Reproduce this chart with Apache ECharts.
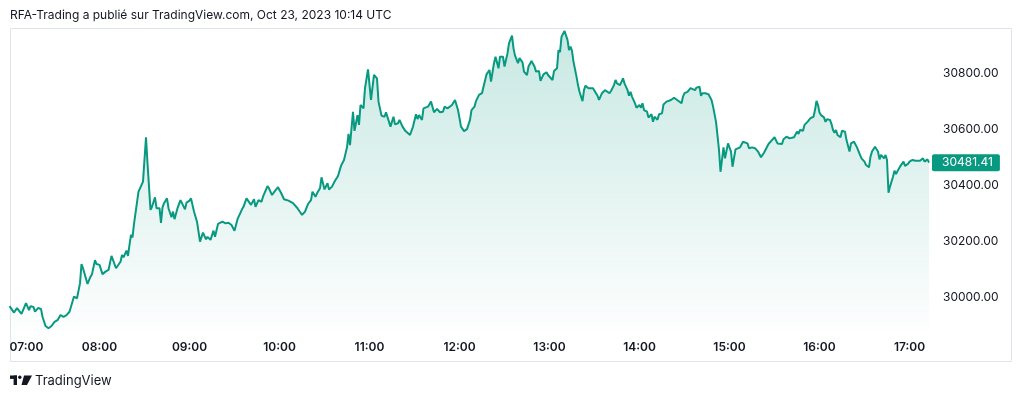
<!DOCTYPE html>
<html>
<head>
<meta charset="utf-8">
<script src="https://cdn.jsdelivr.net/npm/echarts@6/dist/echarts.min.js"></script>
<style>
  html, body { margin: 0; padding: 0; background: #fff; }
  #chart { width: 1024px; height: 399px; }
</style>
</head>
<body>
<div id="chart"></div>
<script>
// BTC/USD intraday, minutes after 07:00
const titleText = 'RFA-Trading a publié sur TradingView.com, Oct 23, 2023 10:14 UTC';
const startHour = 7;
const minutes = [
  0, 1, 3, 5, 8, 11, 13, 14, 16, 17, 19, 21, 22, 24, 26, 28, 30, 32, 34, 36, 38, 40, 41, 43, 45, 47, 48, 49, 50, 52,
  54, 55, 57, 58, 60, 62, 64, 66, 68, 69, 71, 74, 75, 76, 78, 79, 80, 81, 82, 83, 84, 86, 87, 89, 91, 92, 94, 95, 96, 97,
  98, 100, 101, 102, 103, 105, 106, 108, 109, 110, 112, 114, 115, 117, 118, 120, 121, 123, 125, 127, 129, 131, 132, 134, 136, 137, 139, 142, 144, 146,
  148, 150, 152, 153, 155, 156, 158, 159, 161, 163, 164, 166, 168, 169, 172, 173, 175, 177, 179, 181, 183, 186, 189, 192, 195, 197, 199, 201, 202, 204,
  205, 207, 208, 210, 212, 213, 215, 217, 219, 221, 223, 225, 226, 227, 229, 230, 232, 233, 234, 236, 237, 238, 239, 241, 243, 245, 246, 248, 250, 251,
  253, 254, 256, 257, 259, 260, 262, 264, 267, 269, 271, 272, 273, 275, 276, 277, 279, 281, 282, 283, 285, 287, 289, 290, 292, 293, 295, 297, 299, 300,
  301, 303, 305, 307, 308, 310, 311, 313, 314, 315, 316, 318, 320, 321, 323, 324, 325, 326, 327, 328, 329, 330, 332, 333, 335, 336, 337, 339, 340, 342,
  343, 345, 346, 347, 348, 350, 351, 353, 354, 356, 358, 359, 360, 362, 363, 365, 366, 367, 368, 369, 370, 372, 373, 374, 375, 376, 378, 379, 380, 382,
  383, 384, 386, 387, 389, 390, 392, 393, 395, 397, 398, 400, 401, 403, 404, 405, 407, 409, 410, 412, 413, 414, 415, 417, 418, 420, 421, 422, 423, 425,
  426, 428, 429, 430, 432, 433, 435, 436, 438, 439, 441, 443, 444, 446, 448, 449, 450, 452, 454, 455, 457, 458, 460, 461, 462, 464, 466, 468, 469, 471,
  472, 473, 474, 476, 477, 479, 481, 482, 484, 485, 487, 489, 490, 492, 493, 495, 497, 499, 501, 503, 504, 506, 508, 510, 512, 513, 515, 516, 518, 520,
  521, 523, 525, 526, 527, 529, 530, 532, 534, 536, 537, 538, 539, 540, 541, 542, 543, 544, 545, 547, 548, 549, 550, 551, 552, 554, 555, 556, 557, 558,
  560, 561, 563, 564, 565, 567, 568, 570, 571, 573, 574, 575, 577, 578, 579, 580, 581, 583, 584, 585, 586, 587, 589, 590, 591, 593, 594, 596, 597, 599,
  600, 602, 604, 605, 607, 609, 610, 612, 613
];
const prices = [
  29970, 29963, 29947, 29963, 29942, 29981, 29956, 29970, 29967, 29950, 29963, 29960, 29932, 29899, 29891, 29899, 29914, 29920, 29938, 29932, 29938, 29950, 29956, 30004, 29998, 30051, 30120, 30105, 30099, 30049,
  30075, 30084, 30134, 30120, 30117, 30084, 30093, 30099, 30149, 30144, 30105, 30128, 30152, 30144, 30168, 30149, 30188, 30224, 30215, 30263, 30256, 30378, 30390, 30414, 30572, 30479, 30313, 30324, 30322, 30358,
  30319, 30319, 30267, 30322, 30337, 30354, 30319, 30287, 30307, 30280, 30319, 30348, 30351, 30315, 30339, 30346, 30354, 30307, 30271, 30200, 30232, 30208, 30217, 30206, 30239, 30217, 30263, 30271, 30265, 30267,
  30259, 30239, 30280, 30283, 30315, 30324, 30354, 30348, 30331, 30351, 30324, 30348, 30342, 30360, 30398, 30390, 30366, 30381, 30394, 30374, 30351, 30346, 30337, 30319, 30295, 30307, 30334, 30348, 30378, 30360,
  30372, 30390, 30429, 30386, 30408, 30386, 30396, 30417, 30434, 30470, 30491, 30536, 30584, 30544, 30663, 30595, 30651, 30616, 30687, 30675, 30747, 30752, 30814, 30705, 30794, 30782, 30699, 30649, 30645, 30661,
  30627, 30610, 30645, 30618, 30622, 30634, 30610, 30594, 30580, 30610, 30654, 30637, 30651, 30634, 30675, 30669, 30681, 30699, 30697, 30661, 30673, 30661, 30663, 30681, 30675, 30669, 30687, 30705, 30669, 30640,
  30610, 30594, 30601, 30634, 30669, 30681, 30701, 30723, 30717, 30729, 30752, 30796, 30812, 30770, 30836, 30859, 30854, 30818, 30859, 30863, 30859, 30824, 30871, 30907, 30934, 30889, 30863, 30836, 30854, 30839,
  30806, 30794, 30824, 30818, 30844, 30824, 30806, 30808, 30773, 30796, 30804, 30794, 30791, 30776, 30808, 30818, 30883, 30875, 30930, 30925, 30951, 30919, 30883, 30895, 30880, 30841, 30788, 30758, 30734, 30701,
  30740, 30756, 30747, 30752, 30747, 30740, 30720, 30705, 30729, 30740, 30734, 30729, 30737, 30758, 30776, 30764, 30758, 30782, 30764, 30740, 30720, 30734, 30717, 30693, 30677, 30687, 30677, 30693, 30669, 30663,
  30642, 30654, 30627, 30645, 30634, 30654, 30657, 30689, 30699, 30697, 30705, 30713, 30713, 30701, 30693, 30717, 30729, 30734, 30747, 30749, 30740, 30749, 30752, 30720, 30729, 30729, 30725, 30705, 30683, 30627,
  30578, 30527, 30449, 30536, 30497, 30550, 30521, 30467, 30529, 30524, 30536, 30556, 30550, 30550, 30533, 30536, 30533, 30521, 30501, 30517, 30524, 30548, 30560, 30572, 30550, 30544, 30548, 30565, 30574, 30568,
  30562, 30572, 30592, 30584, 30598, 30595, 30616, 30627, 30640, 30645, 30669, 30702, 30687, 30660, 30651, 30657, 30643, 30627, 30636, 30634, 30619, 30598, 30588, 30598, 30580, 30572, 30595, 30600, 30592, 30562,
  30521, 30550, 30556, 30562, 30536, 30509, 30497, 30485, 30473, 30465, 30503, 30521, 30538, 30536, 30521, 30493, 30509, 30497, 30509, 30491, 30374, 30396, 30431, 30453, 30441, 30461, 30470, 30485, 30470, 30477,
  30485, 30491, 30488, 30493, 30488, 30497, 30485, 30493, 30481.41
];

const lineColor = '#089981';
const textColor = '#131722';

const hhmm = m => String(startHour + Math.floor(m / 60)).padStart(2, '0') + ':' + String(m % 60).padStart(2, '0');

const chart = echarts.init(document.getElementById('chart'));

const option = {
  animation: false,
  textStyle: { fontFamily: 'Inter, "Noto Sans", sans-serif' },
  title: {
    text: titleText,
    left: 10,
    top: 9,
    padding: 0,
    textStyle: { fontSize: 12, fontWeight: 'normal', color: textColor }
  },
  grid: { left: 9.5, right: 95, top: 17.2, bottom: 45.2 },
  xAxis: {
    type: 'value',
    min: 0,
    max: minutes[minutes.length - 1],
    interval: 60,
    offset: -24,
    axisLine: { show: false },
    axisTick: { show: false },
    splitLine: { show: false },
    axisLabel: {
      margin: 12,
      color: textColor,
      fontSize: 12,
      fontWeight: 600,
      formatter: hhmm,
      alignMinLabel: 'left',
      showMaxLabel: false
    }
  },
  yAxis: {
    type: 'value',
    position: 'right',
    min: 29800,
    max: 31000,
    interval: 200,
    axisLine: { show: false },
    axisTick: { show: false },
    splitLine: { show: false },
    axisLabel: {
      margin: 14,
      color: textColor,
      fontSize: 12,
      formatter: v => v.toFixed(2),
      showMinLabel: false,
      showMaxLabel: false
    }
  },
  series: [{
    type: 'line',
    data: minutes.map((m, i) => [m, prices[i]]),
    symbol: 'none',
    lineStyle: { color: lineColor, width: 2 },
    areaStyle: {
      origin: 29885,
      color: new echarts.graphic.LinearGradient(0, 0, 0, 1, [
        { offset: 0, color: 'rgba(8,153,129,0.32)' },
        { offset: 1, color: 'rgba(8,153,129,0.01)' }
      ])
    },
    endLabel: {
      show: true,
      formatter: p => p.value[1].toFixed(2),
      backgroundColor: lineColor,
      color: '#fff',
      fontSize: 12,
      padding: [3, 7, 2, 10],
      borderRadius: 2,
      distance: 3
    }
  }],
  graphic: [
    // frame round the widget
    { type: 'rect', shape: { x: 10.5, y: 28.5, width: 1001, height: 333 }, style: { fill: 'none', stroke: '#e0e3eb', lineWidth: 1 }, silent: true },
    // TradingView logo
    { type: 'rect', shape: { x: 10, y: 375.5, width: 7, height: 3.4 }, style: { fill: textColor } },
    { type: 'rect', shape: { x: 13.6, y: 375.5, width: 3.4, height: 9.5 }, style: { fill: textColor } },
    { type: 'circle', shape: { cx: 19.8, cy: 377.2, r: 1.7 }, style: { fill: textColor } },
    { type: 'polygon', shape: { points: [[24, 375.5], [32, 375.5], [27, 385], [21.5, 385]] }, style: { fill: textColor } },
    { type: 'text', x: 35, y: 381, style: { text: 'TradingView', font: '13px Inter, "Noto Sans", sans-serif', fill: textColor, verticalAlign: 'middle' } }
  ]
};

chart.setOption(option);
</script>
</body>
</html>
